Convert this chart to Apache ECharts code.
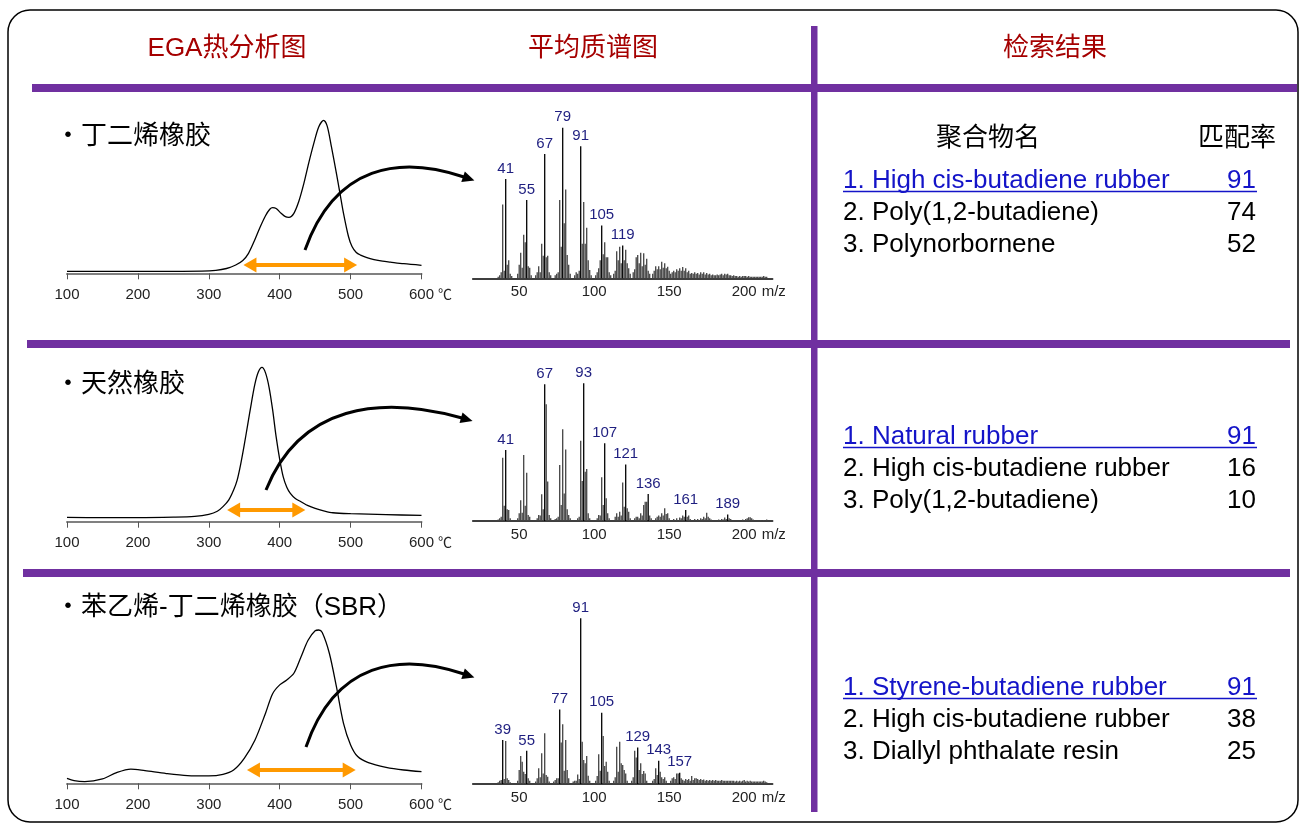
<!DOCTYPE html>
<html><head><meta charset="utf-8">
<script src="https://cdn.jsdelivr.net/npm/echarts@6/dist/echarts.min.js"></script>
<style>html,body{margin:0;padding:0;background:#fff}#c{width:1301px;height:825px}</style>
</head><body><div id="c"></div>
<script>
// ---------- DATA ----------
const headers = ['EGA热分析图', '平均质谱图', '检索结果'];
const rowTitles = ['・丁二烯橡胶', '・天然橡胶', '・苯乙烯-丁二烯橡胶（SBR）'];
const resultHeads = ['聚合物名', '匹配率'];

const results1 = ['1. High cis-butadiene rubber', '2. Poly(1,2-butadiene)', '3. Polynorbornene'];
const scores1 = [91, 74, 52];
const results2 = ['1. Natural rubber', '2. High cis-butadiene rubber', '3. Poly(1,2-butadiene)'];
const scores2 = [91, 16, 10];
const results3 = ['1. Styrene-butadiene rubber', '2. High cis-butadiene rubber', '3. Diallyl phthalate resin'];
const scores3 = [91, 38, 25];

// EGA thermograms: [temperature °C, relative intensity]
const ega1 = [[100,1.2],[150,1.2],[200,1.2],[250,1.2],[290,1.3],[310,1.8],[325,3],[338,5.2],[348,8],[356,12.5],[364,20],[372,28.5],[380,36],[386,40],[390,41],[395,40.5],[402,37.5],[408,35.4],[413,35],[420,37.5],[427,45],[434,56],[441,69],[448,81],[455,91.5],[462,95.6],[467,92],[473,79],[480,62.5],[485,50],[490,37.5],[497,23],[502,16.7],[508,13],[514,11.4],[523,9.8],[533,8.6],[545,7.6],[556,7],[575,6],[600,5]];
const ega2 = [[100,2.7],[150,2.5],[200,2.5],[250,2.8],[280,3.3],[300,4.6],[312,6.5],[320,9.4],[328,13.5],[335,19.8],[340,26],[345,36],[350,48],[355,61],[360,74],[365,86],[370,93.7],[375,96.4],[380,93],[385,84],[390,70],[395,53],[400,39],[405,28],[410,21.5],[415,17.7],[422,14.5],[430,12.5],[440,10],[450,8.3],[462,6.8],[475,5.6],[500,5],[550,4.4],[600,3.9]];
const ega3 = [[100,3.1],[110,1.7],[125,1.1],[150,2.7],[170,6.7],[190,8.9],[210,7.9],[240,6.1],[270,4.8],[300,4.6],[320,5.6],[335,8.3],[350,15.6],[365,26.9],[380,43.8],[390,56],[400,61.5],[410,64.6],[420,68.8],[430,79],[440,89.4],[450,95.4],[455,95.8],[460,94.2],[470,81.3],[480,60.4],[490,37.5],[500,24],[510,16.7],[525,12.9],[550,10],[575,8.3],[600,7.3]];
// orange range arrows: [from °C, to °C, height]
const egaRanges = [[358,500,5.2],[335,427,7.3],[363,498,8.3]];

// Average mass spectra: [m/z, relative intensity]
const ms1 = [[36,1],[37,2],[38,4],[39,49],[40,5],[41,66],[42,9],[43,12],[44,3],[45,1.5],
[49,3],[50,9],[51,17],[52,7],[53,29],[54,24],[55,52],[56,8],[57,7],[58,2],
[61,2],[62,4],[63,8],[64,4],[65,23],[66,15],[67,82.5],[68,14],[69,15],[70,4],[71,2],
[74,2],[75,3],[76,4],[77,52],[78,21],[79,100],[80,36.5],[81,59],[82,15.5],[83,9],[84,3],
[87,2],[88,4],[89,3],[90,5],[91,87.6],[92,23],[93,50.7],[94,23],[95,33.6],[96,12],[97,5.5],[98,2],
[101,2],[102,4],[103,6.6],[104,12],[105,35],[106,16],[107,24],[108,14],[109,14],[110,4],[111,2],
[113,3],[114,5],[115,18],[116,12],[117,21],[118,10],[119,21.7],[120,12],[121,19],[122,10],[123,6.6],[124,3],
[126,4],[127,6],[128,14],[129,15.5],[130,10],[131,17],[132,8],[133,16.6],[134,9],[135,13],[136,5],[137,3],
[139,3],[140,5],[141,8],[142,6],[143,8],[144,6],[145,11],[146,7],[147,10],[148,6.6],[149,7.7],[150,5],[151,3],
[152,4],[153,5],[154,4],[155,6],[156,5],[157,6.6],[158,5],[159,7.5],[160,5],[161,6.6],[162,4],[163,5],[164,3],
[165,3.5],[166,3],[167,4],[168,3],[169,3.5],[170,2.5],[171,4],[172,3],[173,4],[174,2.5],[175,3.5],[176,2.5],[177,3],[178,2],[179,2.5],[180,2],
[181,2],[182,2.5],[183,2],[184,2.5],[185,3],[186,2],[187,3],[188,2.5],[189,3],[190,2],[191,2],[192,1.5],[193,2],[194,1.5],[195,1.5],
[196,1],[197,1.5],[198,1],[199,1.5],[200,1.5],[201,1.5],[202,1],[203,1.5],[204,1],[205,1],[206,1],[207,1],[208,1],[209,1],[210,1],[211,1],[212,1],[213,1.5],[214,1],[215,1]];
const ms1Labels = [41,55,67,79,91,105,119];

const ms2 = [[36,1],[37,2],[38,3],[39,46],[40,11],[41,51.6],[42,8.5],[43,8],[44,2],
[49,2],[50,5.6],[51,15],[52,6],[53,48],[54,11],[55,35],[56,4.4],[57,3],
[62,2],[63,4.4],[64,4],[65,19.4],[66,8.5],[67,99.3],[68,84.7],[69,28.6],[70,4.4],[71,2],
[74,1.5],[75,2],[76,3],[77,40.7],[78,11.6],[79,66.6],[80,20],[81,52],[82,8.5],[83,4.4],[84,2],
[89,2],[90,3],[91,58.3],[92,29],[93,100],[94,35.8],[95,37.8],[96,5.6],[97,2],
[102,2],[103,4.4],[104,4],[105,31.7],[106,11.6],[107,56.4],[108,16.5],[109,5.6],[110,2],
[114,3],[115,5.6],[116,3],[117,6.8],[118,4],[119,28],[120,10.4],[121,41],[122,9.2],[123,6.8],[124,2],
[127,2],[128,3],[129,3],[130,2],[131,5.6],[132,4],[133,11.6],[134,14],[135,14],[136,19.6],[137,4],[138,2],
[141,2],[142,3],[143,4],[144,3],[145,5.6],[146,4],[147,9.2],[148,5],[149,5.6],[150,2],
[153,1.5],[155,2],[157,2.5],[158,2],[159,4],[160,3],[161,8],[162,3],[163,4],[164,1.5],
[167,1.5],[169,1.5],[171,2],[172,1.5],[173,3],[174,2],[175,6],[176,3],[177,2],[178,1],
[183,1],[185,1.5],[186,1],[187,2.5],[188,1.5],[189,4.8],[190,2],[191,1.5],
[199,1],[201,1.5],[202,2],[203,2.7],[204,2.7],[205,2],[206,1],
[211,0.8],[213,0.8],[215,1]];
const ms2Labels = [41,67,93,107,121,136,161,189];

const ms3 = [[36,1],[37,2],[38,2.4],[39,26.5],[40,3],[41,26],[42,3.4],[43,2.4],[44,1],
[49,2],[50,8.4],[51,16.9],[52,13.5],[53,7.4],[54,6],[55,20],[56,3.4],[57,2],
[61,1.5],[62,3.4],[63,9.5],[64,4],[65,18.5],[66,6.4],[67,30.6],[68,5.4],[69,4.4],[70,1.5],
[73,1.5],[74,2.4],[75,3.4],[76,3.4],[77,45],[78,25],[79,36],[80,8],[81,26.6],[82,8.4],[83,3.4],
[86,1.5],[87,2],[88,2],[89,5.8],[90,3],[91,100],[92,25.5],[93,14.5],[94,12.5],[95,16.9],[96,5],[97,2],
[101,2],[102,4.8],[103,18],[104,8],[105,43],[106,29],[107,10.9],[108,13.5],[109,7.4],[110,2],
[113,2],[114,4],[115,22.5],[116,7.4],[117,25.5],[118,12.5],[119,11.5],[120,8.4],[121,6.4],[122,2],
[125,2],[126,4],[127,20],[128,16],[129,22],[130,8.4],[131,12.5],[132,6],[133,7.8],[134,6.4],[135,2],
[139,2],[140,3],[141,9.5],[142,5.4],[143,14],[144,7.4],[145,4],[146,3],[147,4],[148,2],
[151,2],[152,3.4],[153,4],[154,3],[155,6.4],[156,6.4],[157,6.8],[158,3.4],[159,2.5],[160,2],
[161,3],[162,2.4],[163,3],[164,2],[165,4.8],[166,2.4],[167,3.4],[168,3.4],[169,3],[170,2.4],[171,3],[172,2.4],[173,2.7],[174,2],[175,2.4],[176,2],[177,2.4],[178,2],[179,2.4],[180,2],
[181,2.4],[182,2],[183,2],[184,2],[185,2.4],[186,2],[187,2],[188,2],[189,2],[190,2],[191,2],[192,2],[193,2],[194,1.5],[195,2],[196,1.5],[197,2],[198,1.5],[199,2],[200,2.4],
[201,1.5],[202,2],[203,1.5],[204,2],[205,1.5],[206,1.5],[207,1.5],[208,1.5],[209,1.5],[210,1.5],[211,1.5],[212,1.5],[213,2],[214,1.5],[215,1]];
const ms3Labels = [39,55,77,91,105,129,143,157];
const msTicks = [50, 100, 150, 200];

// ---------- LAYOUT ----------
const FONT = "'Liberation Sans', Arial, 'Noto Sans CJK SC', sans-serif";
const CJK = "'Noto Sans CJK SC', 'Liberation Sans', sans-serif";
const egaGrids = [{top:113.3},{top:361.7},{top:623.3}];
const msGrids = [{top:127.7,h:150.6},{top:383.3,h:137.7},{top:618.3,h:165.7}];
const egaData = [ega1, ega2, ega3];
const msData = [ms1, ms2, ms3];
const msLabels = [ms1Labels, ms2Labels, ms3Labels];
const results = [results1, results2, results3];
const scores = [scores1, scores2, scores3];

const grid = [], xAxis = [], yAxis = [], series = [];
egaGrids.forEach((g, i) => {
  grid.push({left: 67, top: g.top, width: 354.5, height: 160});
  xAxis.push({gridIndex: i, type: 'value', min: 100, max: 600, interval: 100,
    axisLine: {lineStyle: {color: '#808080', width: 2}},
    axisTick: {show: true, length: 6, lineStyle: {color: '#555', width: 1}},
    axisLabel: {fontSize: 15, color: '#222', margin: 14, fontFamily: FONT},
    splitLine: {show: false},
    name: '℃', nameLocation: 'end', nameGap: 14,
    nameTextStyle: {fontSize: 14, color: '#222', fontFamily: CJK, verticalAlign: 'top', padding: [13, 0, 0, 0]}});
  yAxis.push({gridIndex: i, type: 'value', min: 0, max: 100, show: false});
  const r = egaRanges[i];
  series.push({type: 'line', xAxisIndex: i, yAxisIndex: i, data: egaData[i], smooth: 0.3,
    symbol: 'none', lineStyle: {color: '#000', width: 1.3}, silent: true,
    markLine: {silent: true, symbol: ['triangle', 'triangle'], symbolSize: [15, 13],
      lineStyle: {color: '#FF9900', width: 4, type: 'solid'}, label: {show: false}, emphasis: {disabled: true},
      data: [[{coord: [r[0], r[2]]}, {coord: [r[1], r[2]]}]]}});
});
msGrids.forEach((g, i) => {
  const k = 3 + i;
  grid.push({left: 472.7, top: g.top, width: 300, height: g.h});
  xAxis.push({gridIndex: k, type: 'value', min: 19, max: 219,
    axisLine: {lineStyle: {color: '#000', width: 1.5}},
    axisTick: {show: false},
    axisLabel: {customValues: msTicks, fontSize: 15, color: '#222', margin: 6, fontFamily: FONT},
    splitLine: {show: false},
    name: 'm/z', nameLocation: 'end', nameGap: -11,
    nameTextStyle: {fontSize: 15, color: '#222', fontFamily: FONT, verticalAlign: 'top', padding: [6, 0, 0, 0]}});
  yAxis.push({gridIndex: k, type: 'value', min: 0, max: 100, show: false});
  const lab = msLabels[i];
  series.push({type: 'bar', xAxisIndex: k, yAxisIndex: k, barWidth: 1.3, silent: true,
    itemStyle: {color: '#444'},
    data: msData[i].map(([mz, v]) => lab.includes(mz)
      ? {value: [mz, v], itemStyle: {color: '#000'},
         label: {show: true, position: 'top', distance: 3, formatter: String(mz), color: '#1f1f80', fontSize: 15, fontFamily: FONT}}
      : [mz, v])});
});

// ---------- DECORATION ----------
const graphic = [];
graphic.push({type: 'rect', shape: {x: 8, y: 10, width: 1290, height: 812, r: 22}, style: {fill: 'none', stroke: '#000', lineWidth: 1.5}, z: 1});
const PURPLE = '#7030A0';
graphic.push({type: 'rect', shape: {x: 32, y: 84, width: 1265, height: 8}, style: {fill: PURPLE}, z: 2});
graphic.push({type: 'rect', shape: {x: 27, y: 340, width: 1263, height: 8}, style: {fill: PURPLE}, z: 2});
graphic.push({type: 'rect', shape: {x: 23, y: 569, width: 1267, height: 8}, style: {fill: PURPLE}, z: 2});
graphic.push({type: 'rect', shape: {x: 811, y: 26, width: 6.5, height: 786}, style: {fill: PURPLE}, z: 2});

const headerX = [227, 593, 1055];
headers.forEach((t, i) => graphic.push({type: 'text', x: headerX[i], y: 49,
  style: {text: t, fill: '#A50000', font: '26px ' + FONT, textAlign: 'center', textVerticalAlign: 'middle', align: 'center', verticalAlign: 'middle'}}));

const titleY = [137, 385, 608];
rowTitles.forEach((t, i) => graphic.push({type: 'text', x: 55, y: titleY[i],
  style: {text: t, fill: '#000', font: '26px ' + FONT, textAlign: 'left', textVerticalAlign: 'middle', align: 'left', verticalAlign: 'middle'}}));

graphic.push({type: 'text', x: 988, y: 136, style: {text: resultHeads[0], fill: '#000', font: '26px ' + CJK, textAlign: 'center', textVerticalAlign: 'middle', align: 'center', verticalAlign: 'middle'}});
graphic.push({type: 'text', x: 1237, y: 136, style: {text: resultHeads[1], fill: '#000', font: '26px ' + CJK, textAlign: 'center', textVerticalAlign: 'middle', align: 'center', verticalAlign: 'middle'}});

const resY = [181, 437, 688];
const BLUE = '#1414C8';
results.forEach((list, r) => {
  list.forEach((t, j) => {
    const y = resY[r] + j * 31.7;
    const col = j === 0 ? BLUE : '#000';
    graphic.push({type: 'text', x: 843, y: y, style: {text: t, fill: col, font: '26px ' + FONT, textAlign: 'left', textVerticalAlign: 'middle', align: 'left', verticalAlign: 'middle'}});
    graphic.push({type: 'text', x: 1256, y: y, style: {text: String(scores[r][j]), fill: col, font: '26px ' + FONT, textAlign: 'right', textVerticalAlign: 'middle', align: 'right', verticalAlign: 'middle'}});
  });
  graphic.push({type: 'line', shape: {x1: 843, y1: resY[r] + 10.5, x2: 1257, y2: resY[r] + 10.5}, style: {stroke: BLUE, lineWidth: 1.5}});
});

// curved black arrows from EGA to spectrum
const curves = [
  [305, 250, 335, 165, 400, 155, 464, 177],
  [266, 490, 300, 405, 380, 395, 462, 418],
  [306, 747, 335, 662, 400, 652, 464, 674]
];
curves.forEach(c => {
  graphic.push({type: 'bezierCurve', shape: {x1: c[0], y1: c[1], cpx1: c[2], cpy1: c[3], cpx2: c[4], cpy2: c[5], x2: c[6], y2: c[7]},
    style: {stroke: '#000', lineWidth: 3, fill: null}, z: 5});
  const dx = c[6] - c[4], dy = c[7] - c[5], L = Math.hypot(dx, dy);
  const ux = dx / L, uy = dy / L, px = -uy, py = ux;
  const tip = [c[6] + ux * 11, c[7] + uy * 11];
  const b1 = [c[6] + px * 5.5 - ux * 1, c[7] + py * 5.5 - uy * 1];
  const b2 = [c[6] - px * 5.5 - ux * 1, c[7] - py * 5.5 - uy * 1];
  graphic.push({type: 'polygon', shape: {points: [tip, b1, b2]}, style: {fill: '#000'}, z: 5});
});

const chart = echarts.init(document.getElementById('c'), null, {renderer: 'canvas'});
chart.setOption({animation: false, backgroundColor: '#fff', grid, xAxis, yAxis, series, graphic});
</script>
</body></html>
